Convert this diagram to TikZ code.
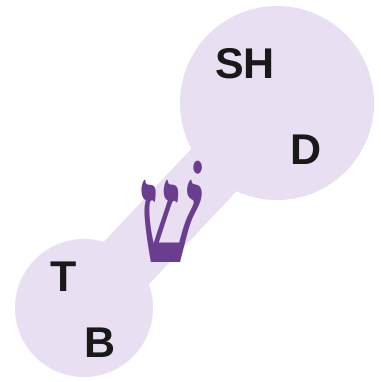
\documentclass[tikz,border=0pt]{standalone}
\usepackage{fontspec}
\setmainfont{Liberation Sans}
\newfontfamily\hebfont[Script=Hebrew]{Liberation Serif}
\TeXXeTstate=1
\usetikzlibrary{positioning}

\definecolor{lavender}{HTML}{E8DFF2}
\definecolor{shinpurple}{HTML}{6B3D8F}

\begin{document}
\begin{tikzpicture}[x=1pt, y=-1pt,
    blob/.style={circle, fill=lavender, inner sep=0pt},
    sound/.style={font=\fontsize{43}{43}\selectfont\bfseries, text=black!90, inner sep=0pt}]
    \useasboundingbox (0,0) rectangle (380,382);
    % the two spheres
    \node[blob, minimum size=194pt] (big) at (277,103) {};
    \node[blob, minimum size=138pt] (small) at (84,308) {};
    \draw[lavender, line width=62pt] (small.center) -- (big.center);
    % letters
    \node[sound] (sh) at (245,64) {SH};
    \node[sound] (d) at (306,150) {D};
    \node[sound] (t) at (64,277) {T};
    \node[sound] (b) at (100,343) {B};
    \node[font=\fontsize{140}{140}\selectfont\bfseries, text=shinpurple, inner sep=0pt, xscale=0.65] (shin) at (171,212) {\hebfont\beginR שׁ\endR};
\end{tikzpicture}
\end{document}
